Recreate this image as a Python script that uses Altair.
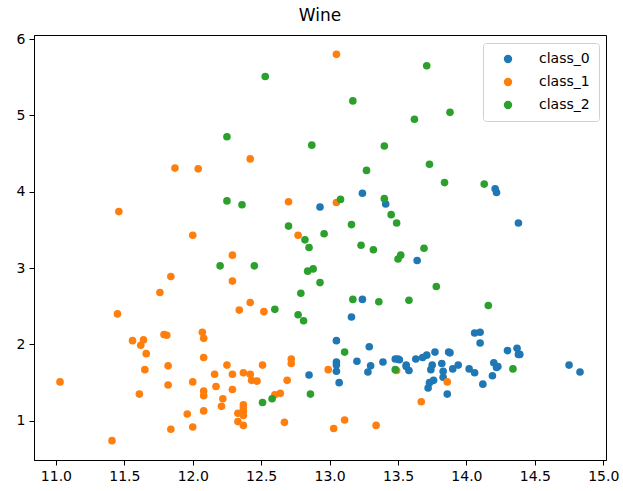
import altair as alt
import pandas as pd

alcohol_0 = [14.23,13.2,13.16,14.37,13.24,14.2,14.39,14.06,14.83,13.86,14.1,14.12,13.75,14.75,14.38,13.63,14.3,13.83,14.19,13.64,14.06,12.93,13.71,12.85,13.5,13.05,13.39,13.3,13.87,14.02,13.73,13.58,13.68,13.76,13.51,13.48,13.28,13.05,13.07,14.22,13.56,13.41,13.88,13.24,13.05,14.21,14.38,13.9,14.1,13.94,13.05,13.83,13.82,13.77,13.74,13.56,14.22,13.29,13.72]
malic_0 = [1.71,1.78,2.36,1.95,2.59,1.76,1.87,2.15,1.64,1.35,2.16,1.48,1.73,1.73,1.87,1.81,1.92,1.57,1.59,3.1,1.63,3.8,1.86,1.6,1.81,2.05,1.77,1.72,1.9,1.68,1.5,1.66,1.83,1.53,1.8,1.81,1.64,1.65,1.5,3.99,1.71,3.84,1.89,3.98,1.77,4.04,3.59,1.68,2.02,1.73,1.73,1.65,1.75,1.9,1.67,1.73,1.7,1.97,1.43]
alcohol_1 = [12.37,12.33,12.64,13.67,12.37,12.17,12.37,13.11,12.37,13.34,12.21,12.29,13.86,13.49,12.99,11.96,11.66,13.03,11.84,12.33,12.7,12.0,12.72,12.08,13.05,11.84,12.67,12.16,11.65,11.64,12.08,12.08,12.0,12.69,12.29,11.62,12.47,11.81,12.29,12.37,12.29,12.08,12.6,12.34,11.82,12.51,12.42,12.25,12.72,12.22,11.61,11.46,12.52,11.76,11.41,12.08,11.03,11.82,12.42,12.77,12.0,11.45,11.56,12.42,13.05,11.87,12.07,12.43,11.79,12.37,12.04]
malic_1 = [0.94,1.1,1.36,1.25,1.13,1.45,1.21,1.01,1.17,0.94,1.19,1.61,1.51,1.66,1.67,1.09,1.88,0.9,2.89,0.99,3.87,0.92,1.81,1.13,3.86,0.89,0.98,1.61,1.67,2.06,1.33,1.83,1.51,1.53,2.83,1.99,1.52,2.12,1.41,1.07,3.17,2.08,1.34,2.45,1.72,1.73,2.55,1.73,1.75,1.29,1.35,3.74,2.43,2.68,0.74,1.39,1.51,1.47,1.61,3.43,3.43,2.4,2.05,4.43,5.8,4.31,2.16,1.53,2.13,1.63,4.3]
alcohol_2 = [12.86,12.88,12.81,12.7,12.51,12.6,12.25,12.53,13.49,12.84,12.93,13.36,13.52,13.62,12.25,13.16,13.88,12.87,13.32,13.08,13.5,12.79,13.11,13.23,12.58,13.17,13.84,12.45,14.34,13.48,12.36,13.69,12.85,12.96,13.78,13.73,13.45,12.82,13.58,13.4,12.2,12.77,14.16,13.71,13.4,13.27,13.17,14.13]
malic_2 = [1.35,2.99,2.31,3.55,1.24,2.46,4.72,5.51,3.59,2.96,2.81,2.56,3.17,4.95,3.88,3.57,5.04,4.61,3.24,3.9,3.12,2.67,1.9,3.3,1.29,5.19,4.12,3.03,1.68,1.67,3.83,3.26,3.27,3.45,2.76,4.36,3.7,3.37,2.58,4.6,3.03,2.39,2.51,5.65,3.91,4.28,2.59,4.1]

classes = ["class_0", "class_1", "class_2"]
colors = ["#1f77b4", "#ff7f0e", "#2ca02c"]

rows = []
for cls, xs, ys in zip(classes, [alcohol_0, alcohol_1, alcohol_2], [malic_0, malic_1, malic_2]):
    for x, y in zip(xs, ys):
        rows.append({"alcohol": x, "malic_acid": y, "cls": cls})
df = pd.DataFrame(rows)

font = "DejaVu Sans"

chart = alt.Chart(df).mark_circle(size=58, opacity=1).encode(
    x=alt.X("alcohol:Q", scale=alt.Scale(domain=[10.84, 15.02], nice=False, zero=False),
            axis=alt.Axis(title=None, values=[11.0, 11.5, 12.0, 12.5, 13.0, 13.5, 14.0, 14.5, 15.0], format=".1f")),
    y=alt.Y("malic_acid:Q", scale=alt.Scale(domain=[0.487, 6.053], nice=False, zero=False),
            axis=alt.Axis(title=None, values=[1, 2, 3, 4, 5, 6], format="d")),
    color=alt.Color("cls:N", scale=alt.Scale(domain=classes, range=colors),
                    legend=alt.Legend(title=None, orient="none", legendX=449, legendY=8,
                                      strokeColor="#d0d0d0", fillColor="white", padding=9,
                                      cornerRadius=3, symbolType="circle", symbolSize=70,
                                      symbolOffset=9,
                                      labelFontSize=14, labelFont=font, labelColor="black",
                                      rowPadding=9, labelOffset=24)),
).properties(
    width=572, height=425,
    title=alt.Title("Wine", font=font, fontSize=17, fontWeight="normal", color="black", offset=7),
    autosize=alt.AutoSizeParams(type="none"),
    padding={"left": 34, "top": 35, "right": 17, "bottom": 31},
).configure_axis(
    grid=False, domainColor="black", tickColor="black", tickSize=5,
    labelFont=font, labelFontSize=14, labelColor="black", labelPadding=4,
).configure_view(stroke="black", strokeWidth=1)

chart.save("out.html", embed_options={"renderer": "svg", "actions": False})
